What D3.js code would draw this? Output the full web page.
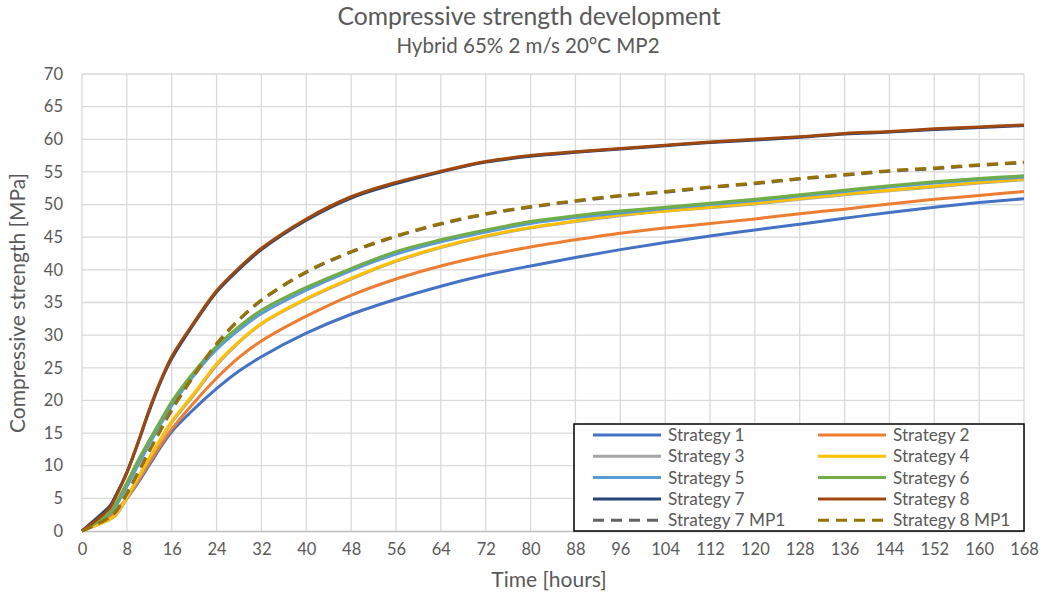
<!DOCTYPE html>
<html>
<head>
<meta charset="utf-8">
<script src="https://cdn.jsdelivr.net/npm/d3@7"></script>
<style>
  html, body { margin: 0; padding: 0; background: #ffffff; }
  svg { display: block; font-family: Lato, "Open Sans", sans-serif; }
</style>
</head>
<body>
<svg id="chart" width="1046" height="595"></svg>
<script>
// Curing time in hours at which strength was evaluated
const hours = [0, 2, 4, 5, 6, 8, 10, 12, 14, 16, 20, 24, 28, 32, 40, 48, 56, 64, 72, 80, 88, 96, 104, 112, 120, 128, 136, 144, 152, 160, 168];

// Compressive strength [MPa] per strategy
const strategy1 = [0, 0.9, 1.9, 2.5, 3.1, 5.0, 7.4, 10.1, 12.8, 15.2, 18.7, 21.8, 24.5, 26.7, 30.3, 33.2, 35.5, 37.5, 39.2, 40.6, 41.9, 43.1, 44.2, 45.2, 46.1, 47.0, 47.9, 48.8, 49.6, 50.3, 50.9];
const strategy2 = [0, 0.9, 1.8, 2.3, 3.0, 5.0, 7.6, 10.4, 13.1, 15.6, 19.7, 23.4, 26.6, 29.1, 32.9, 36.1, 38.6, 40.6, 42.2, 43.5, 44.6, 45.6, 46.4, 47.1, 47.8, 48.6, 49.3, 50.1, 50.8, 51.4, 52.0];
const strategy3 = [0, 0.7, 1.4, 1.8, 2.4, 5.0, 8.0, 11.0, 13.9, 16.6, 20.9, 25.4, 28.9, 31.7, 35.5, 38.6, 41.3, 43.4, 45.1, 46.4, 47.4, 48.3, 49.0, 49.5, 50.1, 50.8, 51.5, 52.1, 52.7, 53.3, 53.8];
const strategy4 = [0, 0.7, 1.4, 1.8, 2.5, 5.2, 8.2, 11.2, 14.1, 16.8, 21.1, 25.6, 29.0, 31.8, 35.6, 38.7, 41.4, 43.5, 45.2, 46.5, 47.5, 48.4, 49.0, 49.6, 50.2, 50.9, 51.6, 52.2, 52.8, 53.4, 53.9];
const strategy5 = [0, 1.0, 2.0, 2.7, 3.8, 6.8, 10.1, 13.3, 16.3, 19.2, 23.9, 27.8, 30.8, 33.3, 36.9, 39.9, 42.4, 44.3, 45.8, 47.1, 48.0, 48.7, 49.4, 50.0, 50.6, 51.3, 52.0, 52.7, 53.3, 53.8, 54.2];
const strategy6 = [0, 1.0, 2.1, 2.9, 4.2, 7.4, 10.8, 13.9, 16.9, 19.8, 24.4, 28.3, 31.3, 33.8, 37.3, 40.2, 42.8, 44.6, 46.1, 47.4, 48.3, 49.0, 49.6, 50.2, 50.8, 51.5, 52.2, 52.9, 53.5, 54.0, 54.4];
const strategy7 = [0, 1.5, 3.0, 3.9, 5.4, 9.0, 13.5, 18.4, 22.8, 26.4, 31.8, 36.6, 40.1, 43.1, 47.6, 51.0, 53.2, 55.0, 56.5, 57.4, 58.0, 58.5, 59.0, 59.5, 59.9, 60.3, 60.8, 61.1, 61.5, 61.8, 62.1];
const strategy8 = [0, 1.3, 2.7, 3.6, 5.2, 8.9, 13.6, 18.6, 23.0, 26.7, 32.0, 36.8, 40.3, 43.3, 47.8, 51.2, 53.4, 55.1, 56.6, 57.5, 58.1, 58.6, 59.1, 59.6, 60.0, 60.4, 60.9, 61.2, 61.6, 61.9, 62.2];
const strategy7MP1 = [0, 0.8, 1.6, 2.2, 2.9, 5.7, 8.9, 12.2, 15.4, 18.5, 23.8, 28.6, 32.3, 35.3, 39.6, 42.7, 45.1, 47.0, 48.5, 49.6, 50.5, 51.3, 51.9, 52.6, 53.2, 53.9, 54.5, 55.1, 55.5, 56.0, 56.4];
const strategy8MP1 = [0, 0.8, 1.6, 2.2, 3.0, 5.8, 9.0, 12.3, 15.5, 18.6, 23.9, 28.7, 32.4, 35.4, 39.7, 42.8, 45.2, 47.1, 48.6, 49.7, 50.6, 51.4, 52.0, 52.7, 53.3, 54.0, 54.6, 55.2, 55.6, 56.1, 56.5];

const seriesNames = ["Strategy 1", "Strategy 2", "Strategy 3", "Strategy 4", "Strategy 5", "Strategy 6", "Strategy 7", "Strategy 8", "Strategy 7 MP1", "Strategy 8 MP1"];
const seriesValues = [strategy1, strategy2, strategy3, strategy4, strategy5, strategy6, strategy7, strategy8, strategy7MP1, strategy8MP1];

// Axis tick labels
const xTicks = [0, 8, 16, 24, 32, 40, 48, 56, 64, 72, 80, 88, 96, 104, 112, 120, 128, 136, 144, 152, 160, 168];
const yTicks = [0, 5, 10, 15, 20, 25, 30, 35, 40, 45, 50, 55, 60, 65, 70];

const titleText = "Compressive strength development";
const subtitleText = "Hybrid 65% 2 m/s 20°C MP2";
const xTitle = "Time [hours]";
const yTitle = "Compressive strength [MPa]";

// Styling
const colors = ["#4472C4", "#ED7D31", "#A5A5A5", "#FFC000", "#5B9BD5", "#70AD47", "#264478", "#9E480E", "#636363", "#997300"];
const dashed = [false, false, false, false, false, false, false, false, true, true];
const textColor = "#595959";
const gridColor = "#D9D9D9";

const svg = d3.select("#chart");
const W = 1046, H = 595;
const plot = { left: 82, right: 1024, top: 74, bottom: 531 };

svg.append("rect").attr("width", W).attr("height", H).attr("fill", "#ffffff");

const x = d3.scaleLinear().domain([0, 168]).range([plot.left, plot.right]);
const y = d3.scaleLinear().domain([0, 70]).range([plot.bottom, plot.top]);

// Gridlines
const grid = svg.append("g");
grid.selectAll("line.h").data(yTicks.filter(v => v > 0)).join("line")
  .attr("x1", plot.left).attr("x2", plot.right)
  .attr("y1", d => y(d)).attr("y2", d => y(d))
  .attr("stroke", gridColor).attr("stroke-width", 1.3);
grid.selectAll("line.v").data(xTicks).join("line")
  .attr("x1", d => x(d)).attr("x2", d => x(d))
  .attr("y1", plot.top).attr("y2", plot.bottom)
  .attr("stroke", gridColor).attr("stroke-width", 1.3);

// X axis (labels only, with a light axis line)
const xAxis = svg.append("g")
  .attr("transform", `translate(0,${plot.bottom})`)
  .call(d3.axisBottom(x).tickValues(xTicks).tickSize(0).tickPadding(12).tickFormat(d3.format("d")));
xAxis.select(".domain").attr("stroke", "#BFBFBF").attr("stroke-width", 1.3);
xAxis.selectAll("text").attr("fill", textColor).attr("font-size", 16.5).attr("font-family", "Lato");

// Y axis labels
const yAxis = svg.append("g")
  .attr("transform", `translate(${plot.left},0)`)
  .call(d3.axisLeft(y).tickValues(yTicks).tickSize(0).tickPadding(19).tickFormat(d3.format("d")));
yAxis.select(".domain").remove();
yAxis.selectAll("text").attr("fill", textColor).attr("font-size", 16.5).attr("font-family", "Lato");

// Titles
svg.append("text").attr("x", 529).attr("y", 25).attr("text-anchor", "middle")
  .attr("fill", textColor).attr("font-size", 24.7).text(titleText);
svg.append("text").attr("x", 528).attr("y", 53).attr("text-anchor", "middle")
  .attr("fill", textColor).attr("font-size", 20.5).text(subtitleText);
svg.append("text").attr("x", 549).attr("y", 587).attr("text-anchor", "middle")
  .attr("fill", textColor).attr("font-size", 21).text(xTitle);
svg.append("text").attr("transform", "translate(25,303) rotate(-90)").attr("text-anchor", "middle")
  .attr("fill", textColor).attr("font-size", 21).text(yTitle);

// Series lines, smoothed
const line = d3.line()
  .x((d, i) => x(hours[i]))
  .y(d => y(d))
  .curve(d3.curveCatmullRom.alpha(0.5));

const lines = svg.append("g");
seriesValues.forEach((vals, i) => {
  lines.append("path")
    .attr("d", line(vals))
    .attr("fill", "none")
    .attr("stroke", colors[i])
    .attr("stroke-width", 3)
    .attr("stroke-linejoin", "round")
    .attr("stroke-dasharray", dashed[i] ? "11,7" : null);
});

// Legend
const legend = svg.append("g");
legend.append("rect")
  .attr("x", 574).attr("y", 424).attr("width", 450).attr("height", 107)
  .attr("fill", "#ffffff").attr("stroke", "#000000").attr("stroke-width", 1.5);
const legendCols = [593, 818];
const legendRow0 = 435, legendRowStep = 21.3;
seriesNames.forEach((name, i) => {
  const cx = legendCols[i % 2];
  const cy = legendRow0 + Math.floor(i / 2) * legendRowStep;
  legend.append("line")
    .attr("x1", cx).attr("x2", cx + 68).attr("y1", cy).attr("y2", cy)
    .attr("stroke", colors[i]).attr("stroke-width", 3)
    .attr("stroke-dasharray", dashed[i] ? "11,7" : null);
  legend.append("text")
    .attr("x", cx + 75).attr("y", cy).attr("dy", "0.35em")
    .attr("fill", textColor).attr("font-size", 17.2).text(name);
});
</script>
</body>
</html>
